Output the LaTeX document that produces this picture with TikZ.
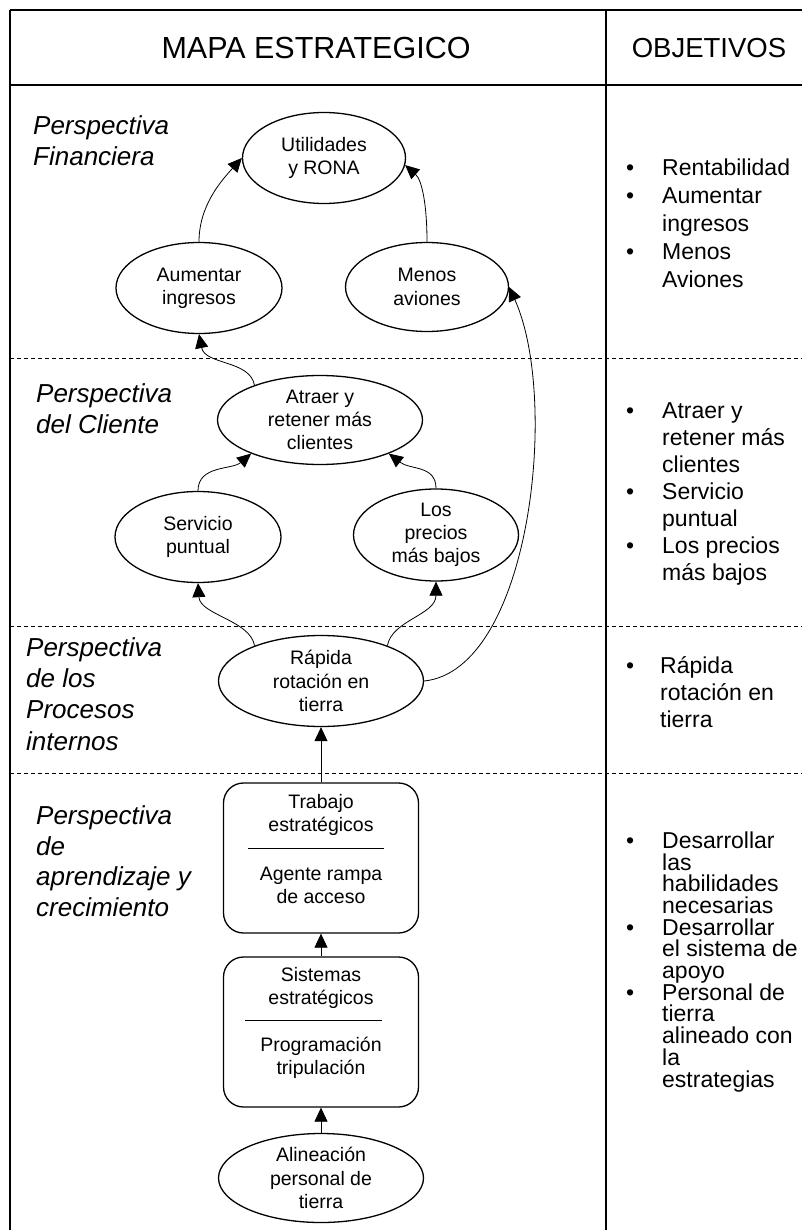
\documentclass[tikz,border=0pt]{standalone}
\usepackage{fontspec}
\setmainfont{Liberation Sans}
\usetikzlibrary{arrows.meta,positioning,shapes.geometric,calc}

\begin{document}
\begin{tikzpicture}[
  x=1pt,y=-1pt,
  every node/.style={inner sep=0pt},
  goal/.style={draw,ellipse,line width=1.3pt,align=center,
               font=\fontsize{19.5}{23.3}\selectfont},
  stack/.style={draw,rounded corners=20pt,line width=1.3pt,
                minimum width=195pt,minimum height=150pt},
  boxtext/.style={align=center,font=\fontsize{19.5}{23}\selectfont},
  persp/.style={anchor=north west,font=\fontsize{26}{30.5}\selectfont\itshape},
  objlist/.style={anchor=north west,font=\fontsize{23}{#1}\selectfont},
  link/.style={-{Triangle[length=14pt,width=13pt]},line width=0.8pt},
  frame/.style={line width=1.6pt},
  sep/.style={line width=0.8pt,dash pattern=on 4pt off 3pt},
]
  \useasboundingbox (0,0) rectangle (801,1230);

  % Table frame
  \draw[frame] (10,10) -- (802,10);
  \draw[frame] (10,10) -- (10,1232);
  \draw[frame] (606,10) -- (606,1232);
  \draw[frame] (10,85) -- (802,85);
  \draw[sep] (10,358) -- (802,358);
  \draw[sep] (10,626) -- (802,626);
  \draw[sep] (10,773) -- (802,773);

  % Header
  \node[font=\fontsize{30.5}{34}\selectfont] (title) at (316,48) {MAPA ESTRATEGICO};
  \node[font=\fontsize{27.5}{32}\selectfont] (objtitle) at (709,48) {OBJETIVOS};

  % Perspectives
  \node[persp] (pfin) at (33,113) {\begin{tabular}{@{}l@{}}Perspectiva\\Financiera\end{tabular}};
  \node[persp] (pcli) at (36,381) {\begin{tabular}{@{}l@{}}Perspectiva\\del Cliente\end{tabular}};
  \node[persp,font=\fontsize{26}{31.3}\selectfont\itshape] (pproc) at (26,634) {\begin{tabular}{@{}l@{}}Perspectiva\\de los\\Procesos\\internos\end{tabular}};
  \node[persp] (papr) at (36,803) {\begin{tabular}{@{}l@{}}Perspectiva\\de\\aprendizaje y\\crecimiento\end{tabular}};

  % Financial
  \node[goal,minimum width=163pt,minimum height=91pt] (util) at (324,158) {Utilidades\\y RONA};
  \node[goal,minimum width=166pt,minimum height=91pt] (aum) at (199,288) {Aumentar\\ingresos};
  \node[goal,minimum width=163pt,minimum height=89pt] (menos) at (427,287) {Menos\\aviones};

  % Customer
  \node[goal,minimum width=205pt,minimum height=89pt] (atraer) at (320,420) {Atraer y\\retener más\\clientes};
  \node[goal,minimum width=166pt,minimum height=91pt] (serv) at (198,537) {Servicio\\puntual};
  \node[goal,minimum width=165pt,minimum height=92pt] (precios) at (436,535) {Los\\precios\\más bajos};

  % Internal processes
  \node[goal,minimum width=205pt,minimum height=91pt] (rapida) at (321,681) {Rápida\\rotación en\\tierra};

  % Learning and growth
  \node[stack] (trabajo) at (321,858) {};
  \node[boxtext] (trabajoA) at (321,815) {Trabajo\\estratégicos};
  \node[boxtext] (trabajoB) at (321,885) {Agente rampa\\de acceso};
  \draw[line width=0.8pt] (248,848) -- (384,848);

  \node[stack] (sistemas) at (321,1032) {};
  \node[boxtext] (sistemasA) at (321,988) {Sistemas\\estratégicos};
  \node[boxtext] (sistemasB) at (321,1058) {Programación\\tripulación};
  \draw[line width=0.8pt] (245,1020) -- (382,1020);

  \node[goal,minimum width=205pt,minimum height=89pt] (alin) at (321,1178) {Alineación\\personal de\\tierra};

  % Links
  \draw[link] (aum.north) .. controls (199,205) and (222,180) .. (util.west);
  \draw[link] (menos.north) .. controls (427,205) and (422,180) .. (util.-5);
  \draw[link] (atraer.152) .. controls (250,360) and (205,365) .. (aum.south);
  \draw[link] (serv.north) .. controls (198,465) and (232,470) .. (atraer.206);
  \draw[link] (precios.north) .. controls (436,465) and (410,470) .. (atraer.-26);
  \draw[link] (rapida.152) .. controls (250,620) and (200,615) .. (serv.south);
  \draw[link] (rapida.28) .. controls (392,620) and (436,615) .. (precios.south);
  \draw[link] (rapida.east) .. controls (530,670) and (560,400) .. (menos.east);
  \draw[link] (trabajo.north) -- (rapida.south);
  \draw[link] (sistemas.north) -- (trabajo.south);
  \draw[link] (alin.north) -- (sistemas.south);

  % Objectives
  \node[objlist=28] (objfin) at (626,156) {\begin{tabular}{@{}p{36pt}@{}l@{}}
    \textbullet & Rentabilidad\\ \textbullet & Aumentar\\ & ingresos\\
    \textbullet & Menos\\ & Aviones\end{tabular}};
  \node[objlist=27] (objcli) at (626,399) {\begin{tabular}{@{}p{36pt}@{}l@{}}
    \textbullet & Atraer y\\ & retener más\\ & clientes\\
    \textbullet & Servicio\\ & puntual\\
    \textbullet & Los precios\\ & más bajos\end{tabular}};
  \node[objlist=26.7] (objproc) at (626,655) {\begin{tabular}{@{}p{34pt}@{}l@{}}
    \textbullet & Rápida\\ & rotación en\\ & tierra\end{tabular}};
  \node[objlist=21.7,align=left] (objapr) at (626,831.5) {%
    \makebox[36pt][l]{\textbullet}Desarrollar\\ \hspace*{36pt}las\\
    \hspace*{36pt}habilidades\\ \hspace*{36pt}necesarias\\
    \makebox[36pt][l]{\textbullet}Desarrollar\\ \hspace*{36pt}el sistema de\\
    \hspace*{36pt}apoyo\\
    \makebox[36pt][l]{\textbullet}Personal de\\ \hspace*{36pt}tierra\\
    \hspace*{36pt}alineado con\\ \hspace*{36pt}la\\ \hspace*{36pt}estrategias};
\end{tikzpicture}
\end{document}
